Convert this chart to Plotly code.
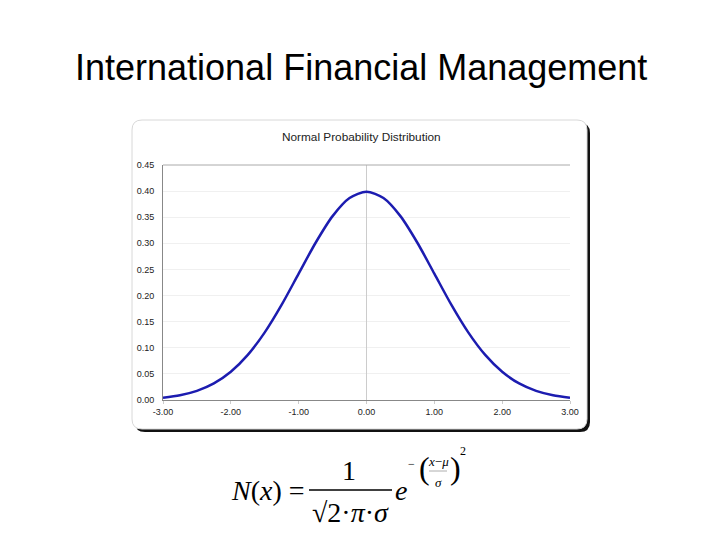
import plotly.graph_objects as go

x_vals = [-3.0, -2.75, -2.5, -2.25, -2.0, -1.75, -1.5, -1.25, -1.0, -0.75, -0.5, -0.25,
          0.0, 0.25, 0.5, 0.75, 1.0, 1.25, 1.5, 1.75, 2.0, 2.25, 2.5, 2.75, 3.0]
y_vals = [0.0044, 0.0091, 0.0175, 0.0317, 0.0540, 0.0863, 0.1295, 0.1826, 0.2420, 0.3011, 0.3521, 0.3867,
          0.3989, 0.3867, 0.3521, 0.3011, 0.2420, 0.1826, 0.1295, 0.0863, 0.0540, 0.0317, 0.0175, 0.0091, 0.0044]
x_ticks = [-3, -2, -1, 0, 1, 2, 3]
x_tick_labels = ["-3.00", "-2.00", "-1.00", "0.00", "1.00", "2.00", "3.00"]
y_ticks = [0.0, 0.05, 0.10, 0.15, 0.20, 0.25, 0.30, 0.35, 0.40, 0.45]
y_tick_labels = ["0.00", "0.05", "0.10", "0.15", "0.20", "0.25", "0.30", "0.35", "0.40", "0.45"]

W, H = 720, 540
OFF = 8  # page offset of the figure in the browser
L, R, T, B = 163, 570, 165, 400


def px(xp):
    return (xp - L) / (R - L)


def py(yp):
    return (B - yp) / (B - T)


def rounded(x0, y0, x1, y1, r):
    X0, X1 = px(x0), px(x1)
    Y0, Y1 = py(y0), py(y1)
    rx = r / (R - L)
    ry = r / (B - T)
    return (f"M {X0+rx},{Y0} L {X1-rx},{Y0} Q {X1},{Y0} {X1},{Y0-ry} "
            f"L {X1},{Y1+ry} Q {X1},{Y1} {X1-rx},{Y1} L {X0+rx},{Y1} "
            f"Q {X0},{Y1} {X0},{Y1+ry} L {X0},{Y0-ry} Q {X0},{Y0} {X0+rx},{Y0} Z")


SERIF = "Liberation Serif, Times New Roman"
SANS = "Liberation Sans, Arial"

fig = go.Figure()
fig.add_trace(go.Scatter(x=x_vals, y=y_vals, mode="lines",
                         line=dict(color="#1c1cb0", width=2.5, shape="spline", smoothing=0.8),
                         showlegend=False))

shapes = [
    dict(type="path", xref="paper", yref="paper", path=rounded(135, 123, 590, 432, 10),
         fillcolor="#111111", line=dict(width=0), layer="below"),
    dict(type="path", xref="paper", yref="paper", path=rounded(132, 120, 587, 429, 10),
         fillcolor="white", line=dict(color="#d8d8d8", width=1), layer="below"),
    dict(type="line", xref="paper", yref="paper", x0=px(309), x1=px(392),
         y0=py(490), y1=py(490), line=dict(color="black", width=1.3)),
    dict(type="line", xref="paper", yref="paper", x0=px(429), x1=px(447),
         y0=py(471), y1=py(471), line=dict(color="#999999", width=0.8)),
    dict(type="line", xref="paper", yref="paper", x0=0, x1=1, y0=1, y1=1,
         line=dict(color="#aaaaaa", width=1)),
]


def ann(text, x, y, size, family=SERIF, color="black"):
    return dict(text=text, xref="paper", yref="paper", x=px(x), y=py(y), showarrow=False,
                xanchor="center", yanchor="middle", font=dict(family=family, size=size, color=color))


annotations = [
    ann("International Financial Management", 361, 68, 36, SANS),
    ann("Normal Probability Distribution", 361, 137, 11.8, SANS, "#222222"),
    ann("<i>N</i>(<i>x</i>) =", 268, 490, 28),
    ann("1", 349, 470, 28),
    ann("√2·<i>π</i>·<i>σ</i>", 350, 512, 28),
    ann("<i>e</i>", 401, 490, 28),
    ann("−", 411, 464, 12),
    ann("(", 424, 468, 32),
    ann("<i>x</i>−<i>μ</i>", 438, 461, 13),
    ann("<i>σ</i>", 438, 482, 13),
    ann(")", 455, 468, 32),
    ann("2", 463, 451, 12),
]

fig.update_layout(
    width=W, height=H,
    margin=dict(l=L - OFF, r=W - (R - L) - (L - OFF), t=T - OFF, b=H - (B - T) - (T - OFF), pad=0),
    paper_bgcolor="white", plot_bgcolor="white",
    shapes=shapes, annotations=annotations,
    xaxis=dict(range=[-3, 3], tickvals=x_ticks, ticktext=x_tick_labels,
               showgrid=False, zeroline=True, zerolinecolor="#cccccc", zerolinewidth=1,
               showline=True, linecolor="#888888", linewidth=1,
               ticks="outside", ticklen=3, tickcolor="#cccccc",
               tickfont=dict(family=SANS, size=9, color="#222222")),
    yaxis=dict(range=[0, 0.45], tickvals=y_ticks, ticktext=y_tick_labels,
               showgrid=True, gridcolor="#f0f0f0", gridwidth=1, zeroline=False,
               showline=True, linecolor="#888888", linewidth=1,
               ticks="", ticklabelstandoff=6,
               tickfont=dict(family=SANS, size=9, color="#222222")),
)

fig.write_html("out.html")
